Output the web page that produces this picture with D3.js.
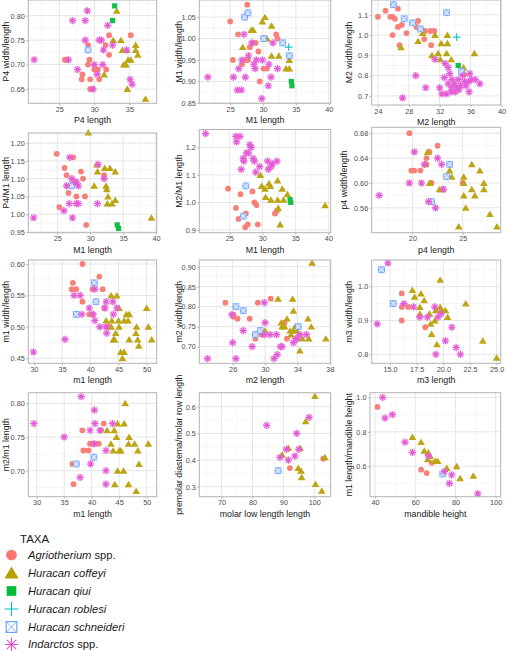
<!DOCTYPE html>
<html><head><meta charset="utf-8">
<script src="https://cdn.jsdelivr.net/npm/d3@7"></script>
<style>
html,body{margin:0;padding:0;background:#fff;}
svg{display:block;font-family:"Liberation Sans",Arial,Helvetica,sans-serif;}
</style></head>
<body><svg id="chart" width="510" height="651"></svg>
<script>
// ---------- DATA ----------
const taxa = ["Agriotherium spp.","Huracan coffeyi","Huracan qiui","Huracan roblesi","Huracan schneideri","Indarctos spp."];
const taxaCodes = ["A","C","Q","R","S","I"];
const taxaColors = ["#F8766D","#B79F00","#00BA38","#00BFC4","#619CFF","#F564E3"];

const xTitles = ["P4 length","M1 length","M2 length","M1 length","M1 length","p4 length","m1 length","m2 length","m3 length","m1 length","molar low length length","mandible height"];
const yTitles = ["P4 width/length","M1 width/length","M2 width/length","P4/M1 length","M2/M1 length","p4 width/length","m1 width/length","m2 width/length","m3 width/length","m2/m1 length","premolar diastema/molar row length","m1 length/mandible height"];

const xTickLabels = [["25","30","35"],["25","30","35","40"],["24","28","32","36","40"],["25","30","35","40"],["25","30","35","40"],["20","25"],["30","35","40","45","50"],["26","30","34","38"],["15.0","17.5","20.0","22.5","25.0"],["30","35","40","45","50"],["70","80","90","100"],["40","60","80","100"]];
const yTickLabels = [["0.65","0.70","0.75","0.80"],["0.85","0.90","0.95","1.00","1.05"],["0.7","0.8","0.9","1.0","1.1"],["0.95","1.00","1.05","1.10","1.15","1.20"],["0.9","1.0","1.1","1.2"],["0.56","0.60","0.64","0.68"],["0.45","0.50","0.55","0.60"],["0.70","0.75","0.80","0.85","0.90"],["0.8","0.9","1.0"],["0.70","0.75","0.80"],["0.3","0.4","0.5","0.6"],["0.6","0.8","1.0"]];

// scale limits (x, y) per panel
const xLimits = [[20.57,38.9],[20.3,40.3],[23.2,39.9],[20.59,40.1],[20.45,40.35],[15.96,28.77],[28.99,51.78],[21.88,38.1],[13.28,25.38],[28.48,51.82],[62.8,105.3],[37.5,102.5]];
const yLimits = [[0.621,0.832],[0.849,1.090],[0.655,1.173],[0.948,1.2285],[0.890,1.265],[0.52,0.6896],[0.442,0.6064],[0.6583,0.9167],[0.7734,1.0788],[0.6614,0.8158],[0.2625,0.6525],[0.4227,1.0276]];

// points: [taxon code, x, y]
const p1 = [
["A",32.1,0.76],["A",35.2,0.76],["A",29.1,0.74],["A",31.6,0.74],["A",32.1,0.72],["A",25.8,0.71],["A",26.0,0.71],["A",29.3,0.71],["A",29.1,0.70],["A",30.0,0.69],["A",30.5,0.69],["A",31.7,0.69],["A",28.3,0.68],["A",28.2,0.67],["A",29.4,0.67],["A",30.7,0.67],["A",29.4,0.65],["A",29.7,0.65],
["C",33.2,0.81],["C",32.7,0.75],["C",33.8,0.75],["C",35.9,0.74],["C",34.0,0.73],["C",34.6,0.73],["C",35.9,0.73],["C",36.2,0.72],["C",34.8,0.71],["C",35.2,0.71],["C",34.2,0.70],["C",34.5,0.70],["C",31.4,0.68],["C",34.7,0.65],["C",37.3,0.63],
["Q",32.9,0.82],["Q",32.6,0.79],
["S",29.1,0.73],
["I",29.0,0.81],["I",26.9,0.79],["I",28.7,0.79],["I",31.9,0.78],["I",21.4,0.71],["I",26.3,0.71],["I",27.6,0.69],["I",28.7,0.75],["I",30.7,0.75],["I",31.0,0.75],["I",31.3,0.73],["I",32.6,0.74],["I",30.0,0.70],["I",31.2,0.70],["I",30.4,0.68],["I",29.8,0.65],["I",34.6,0.73],["I",35.1,0.67],["I",35.4,0.66]
];
const p2 = [
["A",27.6,1.079],["A",25.0,1.04],["A",26.2,1.01],["A",32.0,1.01],["A",32.2,1.00],["A",28.0,0.98],["A",28.9,0.99],["A",28.5,0.99],["A",29.3,0.97],["A",25.4,0.95],["A",26.8,0.94],["A",27.4,0.95],["A",27.7,0.95],["A",30.1,0.93],["A",30.6,0.93],["A",29.5,0.90],
["C",30.3,1.05],["C",29.9,1.04],["C",31.3,1.03],["C",28.2,1.02],["C",28.5,1.02],["C",26.9,0.98],["C",30.3,1.00],["C",30.6,1.00],["C",31.3,0.96],["C",32.4,0.96],["C",34.0,0.95],["C",33.5,0.93],["C",34.0,0.93],
["Q",34.3,0.90],["Q",34.4,0.89],
["R",33.9,0.98],
["S",27.2,1.05],["S",27.7,1.06],["S",30.1,1.00],["S",33.0,0.99],["S",34.0,0.96],
["I",21.6,0.91],["I",25.5,0.91],["I",27.3,0.91],["I",26.1,0.88],["I",26.7,0.88],["I",26.3,0.93],["I",26.8,0.95],["I",27.8,0.96],["I",27.1,1.01],["I",28.3,0.99],["I",29.0,0.95],["I",29.9,0.95],["I",28.6,0.94],["I",28.8,0.93],["I",30.9,0.94],["I",31.2,0.91],["I",30.8,0.89],["I",29.8,0.86],["I",31.5,0.99],["I",32.2,0.93]
];
const p3 = [
["A",24.0,1.09],["A",25.0,1.12],["A",25.6,1.09],["A",25.9,1.09],["A",26.2,1.08],["A",26.6,1.13],["A",26.6,1.04],["A",27.1,1.05],["A",25.9,1.00],["A",27.7,1.01],["A",26.8,0.95],["A",29.2,1.07],["A",29.0,1.04],["A",30.1,1.02],["A",30.8,1.02],["A",31.3,1.02],["A",30.0,0.98],["A",30.9,0.95],
["C",27.0,0.94],["C",29.8,1.01],["C",31.4,1.00],["C",33.0,1.00],["C",29.2,0.97],["C",32.2,0.96],["C",33.0,0.96],["C",31.0,0.90],["C",31.8,0.91],["C",32.9,0.91],["C",32.1,0.88],["C",33.5,0.88],["C",36.5,0.91],["C",35.1,0.84],["C",35.2,0.81],
["Q",34.4,0.85],
["R",34.2,0.99],
["S",26.0,1.15],["S",27.4,1.08],["S",28.5,1.06],["S",29.5,1.03],["S",32.9,1.11],["S",34.8,0.82],
["I",31.4,0.88],["I",28.9,0.80],["I",27.2,0.69],["I",30.2,0.74],["I",32.0,0.74],["I",32.7,0.86],["I",33.1,0.84],["I",33.3,0.81],["I",32.6,0.79],["I",33.6,0.78],["I",33.1,0.76],["I",33.9,0.76],["I",34.4,0.78],["I",35.0,0.80],["I",35.9,0.81],["I",36.1,0.78],["I",35.7,0.77],["I",36.6,0.78],["I",37.2,0.76],["I",35.4,0.75],["I",33.5,0.74],["I",34.2,0.74],["I",34.7,0.75],["I",32.3,0.71],["I",32.9,0.71],["I",33.5,0.72],["I",34.0,0.72],["I",34.5,0.73],["I",35.8,0.72],["I",35.2,0.77]
];
const p4 = [
["A",24.9,1.17],["A",27.4,1.16],["A",26.1,1.13],["A",28.6,1.12],["A",26.4,1.11],["A",28.9,1.10],["A",32.1,1.11],["A",27.5,1.09],["A",26.7,1.06],["A",27.9,1.05],["A",29.2,1.05],["A",25.3,1.02],["A",29.4,0.97],
["C",29.7,1.23],["C",31.0,1.14],["C",32.2,1.13],["C",33.0,1.13],["C",33.8,1.12],["C",31.1,1.12],["C",30.6,1.08],["C",32.4,1.08],["C",32.5,1.07],["C",32.7,1.05],["C",32.6,1.03],["C",33.3,1.03],["C",33.8,1.04],["C",39.3,0.99],
["Q",34.1,0.97],["Q",34.3,0.96],
["S",27.2,1.08],
["I",21.4,0.99],["I",26.9,1.16],["I",27.2,1.10],["I",26.4,1.08],["I",27.9,1.09],["I",28.2,1.08],["I",31.2,1.14],["I",32.1,1.10],["I",26.8,1.03],["I",27.9,1.03],["I",28.2,1.03],["I",31.1,1.03],["I",26.0,1.01],["I",27.3,0.99],["I",27.8,1.09]
];
const p5 = [
["A",24.8,1.05],["A",26.7,1.03],["A",28.5,1.04],["A",28.8,1.00],["A",29.1,0.99],["A",26.0,0.98],["A",27.5,0.96],["A",26.4,0.94],["A",27.8,0.92],["A",27.4,0.91],["A",29.3,0.92],["A",31.9,0.96],["A",32.2,0.97],
["C",29.7,1.10],["C",29.9,1.06],["C",30.4,1.05],["C",31.0,1.07],["C",31.2,1.06],["C",32.3,1.08],["C",33.0,1.05],["C",30.5,1.02],["C",31.3,1.01],["C",32.3,1.01],["C",33.2,1.01],["C",33.8,1.03],["C",32.4,0.98],["C",32.7,0.92],["C",39.5,0.99],
["Q",34.2,1.01],["Q",34.3,1.00],
["S",27.5,1.06],["S",27.1,0.95],
["I",21.4,1.25],["I",26.0,1.24],["I",26.6,1.24],["I",26.1,1.22],["I",28.1,1.21],["I",28.3,1.20],["I",27.9,1.18],["I",27.6,1.18],["I",27.1,1.16],["I",27.2,1.15],["I",28.6,1.16],["I",28.8,1.15],["I",26.8,1.12],["I",29.0,1.11],["I",29.6,1.13],["I",30.8,1.15],["I",31.3,1.13],["I",31.5,1.14],["I",30.9,1.12],["I",32.2,1.15]
];
const p6 = [
["A",19.7,0.68],["A",22.5,0.66],["A",21.7,0.65],["A",21.4,0.64],["A",21.4,0.63],["A",19.9,0.62],["A",20.2,0.62],["A",20.8,0.62],["A",21.9,0.60],["A",25.0,0.60],
["C",21.5,0.65],["C",21.3,0.63],["C",21.7,0.60],["C",23.7,0.62],["C",23.9,0.61],["C",22.7,0.59],["C",23.0,0.59],["C",25.1,0.61],["C",25.1,0.60],["C",25.9,0.63],["C",26.7,0.62],["C",27.1,0.60],["C",27.1,0.59],["C",25.9,0.59],["C",25.1,0.58],["C",26.2,0.58],["C",25.3,0.56],["C",27.7,0.55],["C",24.6,0.53],["C",28.4,0.53],
["S",23.7,0.63],["S",23.4,0.61],["S",21.9,0.57],
["I",20.2,0.65],["I",21.2,0.63],["I",22.5,0.64],["I",22.9,0.63],["I",19.7,0.60],["I",20.9,0.60],["I",16.7,0.58],["I",21.6,0.57],["I",22.3,0.56],["I",23.1,0.59]
];
const p7 = [
["A",38.6,0.60],["A",41.6,0.58],["A",36.9,0.57],["A",36.7,0.56],["A",37.5,0.56],["A",40.4,0.56],["A",42.2,0.56],["A",38.6,0.54],["A",39.8,0.52],["A",40.1,0.52],["A",40.4,0.52],["A",42.5,0.53],["A",43.4,0.50],["A",43.0,0.50],
["C",43.7,0.55],["C",44.7,0.55],["C",45.1,0.53],["C",42.8,0.51],["C",43.8,0.51],["C",45.0,0.51],["C",46.0,0.51],["C",46.7,0.51],["C",46.9,0.52],["C",46.4,0.52],["C",43.7,0.50],["C",45.1,0.50],["C",48.2,0.50],["C",44.5,0.49],["C",48.1,0.49],["C",44.1,0.48],["C",44.3,0.48],["C",46.9,0.48],["C",48.4,0.48],["C",50.9,0.48],["C",48.6,0.47],["C",50.0,0.53],["C",50.3,0.50],["C",45.4,0.46],["C",46.0,0.46],["C",45.7,0.45],
["S",40.7,0.57],["S",41.0,0.54],["S",37.5,0.52],
["I",29.9,0.46],["I",35.5,0.48],["I",37.1,0.55],["I",38.2,0.55],["I",38.5,0.52],["I",40.8,0.56],["I",39.8,0.53],["I",40.5,0.52],["I",40.8,0.51],["I",41.7,0.50],["I",42.8,0.54],["I",44.0,0.54],["I",42.8,0.50],["I",42.9,0.49],["I",44.1,0.52],["I",44.7,0.53],["I",42.6,0.53]
];
const p8 = [
["A",25.1,0.81],["A",26.1,0.78],["A",26.1,0.775],["A",26.6,0.77],["A",28.1,0.77],["A",29.1,0.81],["A",30.7,0.82],["A",28.8,0.72],["A",29.6,0.73],["A",32.4,0.76],["A",32.7,0.72],
["C",31.6,0.82],["C",33.4,0.82],["C",33.5,0.79],["C",30.0,0.74],["C",32.0,0.76],["C",32.1,0.75],["C",32.4,0.75],["C",32.7,0.77],["C",33.1,0.74],["C",33.5,0.74],["C",33.7,0.75],["C",33.2,0.73],["C",33.9,0.74],["C",34.3,0.69],["C",34.6,0.72],["C",35.3,0.77],["C",35.7,0.75],["C",35.4,0.72],["C",35.8,0.91],["C",37.5,0.72],
["S",26.4,0.80],["S",27.3,0.79],["S",28.8,0.73],["S",29.4,0.74],["S",34.1,0.75],
["I",22.9,0.67],["I",26.4,0.67],["I",26.0,0.71],["I",27.3,0.74],["I",28.4,0.70],["I",29.9,0.81],["I",30.0,0.76],["I",29.9,0.73],["I",30.6,0.73],["I",31.4,0.73],["I",31.9,0.70],["I",32.1,0.70],["I",31.5,0.68],["I",31.1,0.67],["I",33.5,0.71],["I",33.8,0.72],["I",34.0,0.72],["I",34.3,0.73],["I",35.1,0.73],["I",25.9,0.78]
];
const p9 = [
["A",16.1,0.98],["A",16.1,0.94],["A",16.7,0.94],["A",16.1,0.90],["A",18.3,0.88],
["C",17.1,0.99],["C",17.3,0.97],["C",17.9,0.98],["C",18.2,0.96],["C",17.8,0.94],["C",17.8,0.92],["C",18.7,0.92],["C",18.8,0.89],["C",19.3,0.93],["C",19.7,0.94],["C",19.8,0.93],["C",20.2,0.93],["C",20.4,0.91],["C",19.2,0.90],["C",18.9,0.86],["C",19.4,0.83],["C",19.7,1.02],["C",22.1,0.95],["C",23.7,0.84],["C",25.0,0.79],
["S",14.2,1.05],["S",15.3,0.95],
["I",14.8,1.07],["I",13.8,0.89],["I",16.3,0.95],["I",17.2,0.94],["I",17.8,0.91],["I",18.5,0.91],["I",19.2,0.94],["I",19.5,0.91],["I",19.8,0.92],["I",20.8,0.88],["I",20.2,0.84],["I",21.2,0.82],["I",21.6,0.80],["I",19.3,0.80]
];
const p10 = [
["A",38.3,0.76],["A",42.2,0.77],["A",39.7,0.74],["A",40.3,0.74],["A",41.3,0.74],["A",38.5,0.73],["A",39.4,0.73],["A",36.5,0.71],["A",36.7,0.68],["A",41.7,0.76],
["C",46.1,0.80],["C",44.7,0.77],["C",45.9,0.77],["C",42.8,0.76],["C",44.1,0.76],["C",44.5,0.75],["C",46.8,0.75],["C",43.5,0.74],["C",46.7,0.74],["C",47.8,0.74],["C",50.3,0.74],["C",43.9,0.73],["C",45.0,0.73],["C",45.3,0.73],["C",48.4,0.73],["C",44.7,0.70],["C",45.8,0.70],["C",48.6,0.71],["C",44.2,0.68],["C",46.7,0.68],["C",48.1,0.67],
["S",37.2,0.71],["S",40.4,0.72],
["I",29.5,0.77],["I",35.0,0.75],["I",38.1,0.81],["I",40.5,0.79],["I",40.6,0.77],["I",39.7,0.76],["I",41.5,0.76],["I",40.5,0.74],["I",39.8,0.71],["I",37.9,0.69],["I",42.6,0.73],["I",42.6,0.70],["I",42.6,0.68],["I",43.8,0.77]
];
const p11 = [
["A",92.1,0.37],["A",102.9,0.405],
["C",100.2,0.64],["C",97.2,0.545],["C",89.6,0.42],["C",91.6,0.445],["C",95.4,0.445],["C",94.8,0.37],["C",95.7,0.36],["C",95.9,0.335],["C",100.4,0.31],["C",102.4,0.285],["C",103.4,0.41],
["S",88.3,0.36],
["I",84.6,0.53],["I",94.3,0.50],["I",98.3,0.56],["I",88.9,0.41],["I",91.6,0.40],["I",93.7,0.415],["I",95.0,0.44],["I",91.0,0.44]
];
const p12 = [
["A",41.2,0.945],["A",62.9,0.58],["A",65.7,0.56],["A",68.2,0.62],
["C",58.6,0.77],["C",62.9,0.74],["C",64.5,0.69],["C",66.5,0.68],["C",67.4,0.66],["C",66.2,0.64],["C",69.9,0.63],["C",71.2,0.63],["C",75.7,0.59],["C",80.6,0.60],["C",82.3,0.53],["C",88.9,0.545],
["S",73.7,0.555],
["I",43.8,1.00],["I",45.0,0.88],["I",48.6,0.90],["I",54.9,0.74],["I",58.6,0.68],["I",66.5,0.66],["I",74.5,0.57],["I",78.1,0.55],["I",77.0,0.50],["I",91.1,0.44]
];
const panelPoints = [p1,p2,p3,p4,p5,p6,p7,p8,p9,p10,p11,p12];

// ---------- LAYOUT ----------
const colX = [[28.3,156.7],[199.3,330.7],[371.7,500.7]];
const rowY = [[0,103.3],[129.5,232.7],[260,363.3],[392.7,496.7]];
const yTitleX = [5.5,179,349];
const panelRects = d3.range(12).map(i=>{
  const r = Math.floor(i/3), c = i%3;
  let [x0,x1] = colX[c], [y0,y1] = rowY[r];
  if(i===11){x0=370;}
  return {x0,x1,y0,y1};
});
panelRects[3].y0 = 133; panelRects[5].y0 = 127.3;
panelRects[2].y1 = 105;

const svg = d3.select("#chart");
const colorOf = Object.fromEntries(taxaCodes.map((c,i)=>[c,taxaColors[i]]));

function drawSymbol(g, code, x, y, s){
  const col = colorOf[code];
  if(code==="A"){
    g.append("circle").attr("cx",x).attr("cy",y).attr("r",2.9*s).attr("fill",col);
  } else if(code==="C"){
    const h=3.5*s;
    g.append("path").attr("d",`M${x},${y-h}L${x+h*1.1},${y+h*0.85}L${x-h*1.1},${y+h*0.85}Z`).attr("fill",col);
  } else if(code==="Q"){
    const h=2.6*s;
    g.append("rect").attr("x",x-h).attr("y",y-h).attr("width",2*h).attr("height",2*h).attr("fill",col);
  } else if(code==="R"){
    const h=3.8*s;
    g.append("path").attr("d",`M${x-h},${y}H${x+h}M${x},${y-h}V${y+h}`).attr("stroke",col).attr("stroke-width",1.1).attr("fill","none");
  } else if(code==="S"){
    const h=2.9*s;
    g.append("rect").attr("x",x-h).attr("y",y-h).attr("width",2*h).attr("height",2*h)
      .attr("fill", s>1.5?"none":"#A9C6FF").attr("stroke",col).attr("stroke-width",s>1.5?1.1:0.9);
    g.append("path").attr("d",`M${x-h},${y-h}L${x+h},${y+h}M${x+h},${y-h}L${x-h},${y+h}`).attr("stroke",s>1.5?col:"#fff").attr("stroke-width",0.8);
  } else if(code==="I"){
    const h=3.6*s;
    if(s<1.5) g.append("circle").attr("cx",x).attr("cy",y).attr("r",h).attr("fill",col).attr("opacity",0.3);
    const d = `M${x-h},${y}H${x+h}M${x},${y-h}V${y+h}M${x-h*0.7},${y-h*0.7}L${x+h*0.7},${y+h*0.7}M${x+h*0.7},${y-h*0.7}L${x-h*0.7},${y+h*0.7}`;
    g.append("path").attr("d",d).attr("stroke","#E050D2").attr("stroke-width",1.1).attr("fill","none");
  }
}

panelRects.forEach((r,i)=>{
  const xTicks = xTickLabels[i].map(Number), yTicks = yTickLabels[i].map(Number);
  const xs = d3.scaleLinear().domain(xLimits[i]).range([r.x0,r.x1]);
  const ys = d3.scaleLinear().domain(yLimits[i]).range([r.y1,r.y0]);
  const g = svg.append("g");
  const minor = (ticks, dom)=>{
    const step = ticks[1]-ticks[0]; const out=[];
    for(let v=ticks[0]-step/2; v<=dom[1]; v+=step){ if(v>=dom[0]) out.push(v); }
    return out;
  };
  minor(xTicks,xLimits[i]).forEach(v=>g.append("line").attr("x1",xs(v)).attr("x2",xs(v)).attr("y1",r.y0).attr("y2",r.y1).attr("stroke","#EDEDED").attr("stroke-width",0.5));
  minor(yTicks,yLimits[i]).forEach(v=>g.append("line").attr("y1",ys(v)).attr("y2",ys(v)).attr("x1",r.x0).attr("x2",r.x1).attr("stroke","#EDEDED").attr("stroke-width",0.5));
  xTicks.forEach(v=>g.append("line").attr("x1",xs(v)).attr("x2",xs(v)).attr("y1",r.y0).attr("y2",r.y1).attr("stroke","#E0E0E0").attr("stroke-width",0.8));
  yTicks.forEach(v=>g.append("line").attr("y1",ys(v)).attr("y2",ys(v)).attr("x1",r.x0).attr("x2",r.x1).attr("stroke","#E0E0E0").attr("stroke-width",0.8));
  const ax = g.append("g").attr("transform",`translate(0,${r.y1})`)
    .call(d3.axisBottom(xs).tickValues(xTicks).tickFormat((d,k)=>xTickLabels[i][k]).tickSize(2).tickPadding(1.5).tickSizeOuter(0));
  const ay = g.append("g").attr("transform",`translate(${r.x0},0)`)
    .call(d3.axisLeft(ys).tickValues(yTicks).tickFormat((d,k)=>yTickLabels[i][k]).tickSize(2).tickPadding(1.5).tickSizeOuter(0));
  [ax,ay].forEach(a=>{
    a.select(".domain").remove();
    a.selectAll(".tick line").attr("stroke","#B3B3B3");
    a.selectAll(".tick text").attr("fill","#4D4D4D").style("font-size","7.3px").style("font-family","'Liberation Sans',Arial,sans-serif");
  });
  const pg = g.append("g").attr("opacity",0.92);
  ["A","C","Q","R","S","I"].forEach(code=>{
    panelPoints[i].filter(p=>p[0]===code).forEach(p=>drawSymbol(pg,code,xs(p[1]),ys(p[2]),1));
  });
  g.append("rect").attr("x",r.x0).attr("y",r.y0).attr("width",r.x1-r.x0).attr("height",r.y1-r.y0)
    .attr("fill","none").attr("stroke","#B3B3B3").attr("stroke-width",1);
  g.append("text").attr("x",(r.x0+r.x1)/2).attr("y",r.y1+20).attr("text-anchor","middle")
    .style("font-size","8.8px").attr("fill","#1a1a1a").text(xTitles[i]);
  const tx = i===5 ? 343.5 : yTitleX[i%3];
  g.append("text").attr("transform",`translate(${tx},${(r.y0+r.y1)/2}) rotate(-90)`).attr("text-anchor","middle")
    .attr("dy","0.35em").style("font-size","8.8px").attr("fill","#1a1a1a").text(yTitles[i]);
});

// ---------- LEGEND ----------
const lg = svg.append("g");
lg.append("text").attr("x",20).attr("y",543).style("font-size","11.5px").attr("fill","#1a1a1a").text("TAXA");
const legY = [555,573,591,609,627,644.5];
taxa.forEach((t,k)=>{
  drawSymbol(lg,taxaCodes[k],11.5,legY[k],1.85);
  const parts = t.split(" ");
  const txt = lg.append("text").attr("x",28).attr("y",legY[k]).attr("dy","0.33em").style("font-size","11.2px").attr("fill","#1a1a1a");
  if(parts[1]==="spp."){
    txt.append("tspan").style("font-style","italic").text(parts[0]);
    txt.append("tspan").text(" spp.");
  } else {
    txt.append("tspan").style("font-style","italic").text(t);
  }
});
</script>
</body></html>
